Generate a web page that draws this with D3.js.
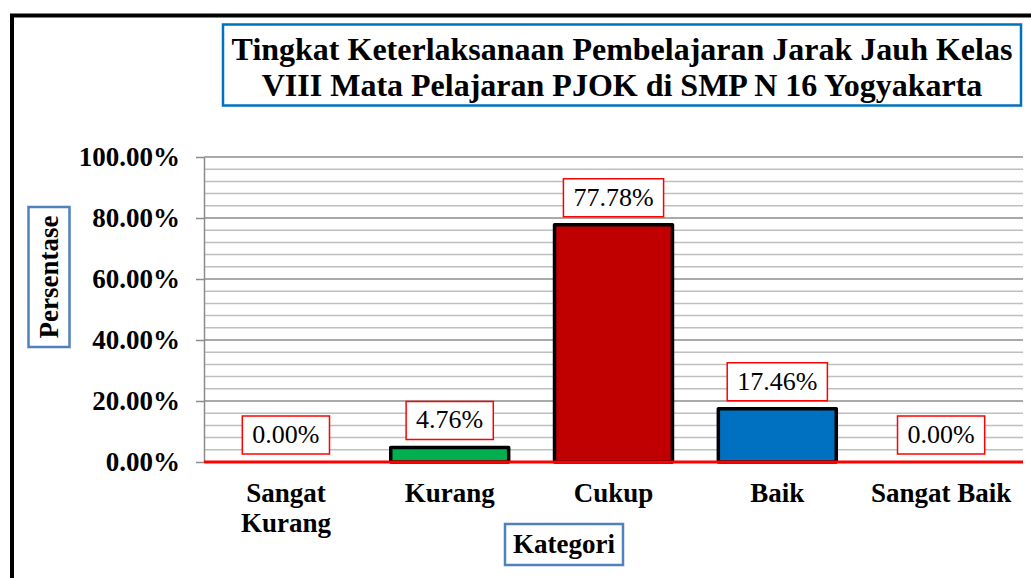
<!DOCTYPE html>
<html>
<head>
<meta charset="utf-8">
<script src="https://cdn.jsdelivr.net/npm/d3@7"></script>
<style>
  body { margin: 0; background: #fff; }
  svg { display: block; font-family: "Liberation Serif", "Times New Roman", serif; }
</style>
</head>
<body>
<svg id="chart" width="1031" height="578"></svg>
<script>
// data
const categories = ["Sangat Kurang", "Kurang", "Cukup", "Baik", "Sangat Baik"];
const values = [0, 4.76, 77.78, 17.46, 0];
const barColors = ["#00B050", "#00B050", "#C00000", "#0070C0", "#0070C0"];
const titleLines = [
    "Tingkat Keterlaksanaan Pembelajaran Jarak Jauh Kelas",
    "VIII Mata Pelajaran PJOK di SMP N 16 Yogyakarta"
];
const majorTicks = [0, 20, 40, 60, 80, 100];
const minorTicks = d3.range(0, 101, 4);

const svg = d3.select("#chart");
const margin = {left: 204, right: 1023, top: 157, bottom: 462};

// outer frame (runs off the picture on the right and bottom)
svg.append("rect")
    .attr("x", 12).attr("y", 15.5)
    .attr("width", 1100).attr("height", 700)
    .attr("fill", "none").attr("stroke", "#000").attr("stroke-width", 4);

// title
svg.append("rect")
    .attr("x", 223).attr("y", 24.5)
    .attr("width", 798).attr("height", 81)
    .attr("fill", "#fff").attr("stroke", "#0070C0").attr("stroke-width", 2.5);
svg.append("g").selectAll("text")
    .data(titleLines)
    .join("text")
    .attr("x", 622).attr("y", (d, i) => 60 + i * 36)
    .attr("text-anchor", "middle")
    .attr("font-size", 32).attr("font-weight", "bold")
    .text(d => d);

// scales
const x = d3.scaleBand()
    .domain(categories)
    .range([margin.left, margin.right])
    .paddingInner(0.28).paddingOuter(0.14);
const y = d3.scaleLinear()
    .domain([0, 100])
    .range([margin.bottom, margin.top]);

// grid lines
svg.append("g").selectAll("line")
    .data(minorTicks.filter(t => t % 20 !== 0))
    .join("line")
    .attr("x1", margin.left).attr("x2", margin.right)
    .attr("y1", d => y(d)).attr("y2", d => y(d))
    .attr("stroke", "#BFBFBF").attr("stroke-width", 1.5);
svg.append("g").selectAll("line")
    .data(majorTicks.filter(t => t > 0))
    .join("line")
    .attr("x1", margin.left).attr("x2", margin.right)
    .attr("y1", d => y(d)).attr("y2", d => y(d))
    .attr("stroke", "#8C8C8C").attr("stroke-width", 1.5);

// y axis
const yAxis = svg.append("g")
    .attr("transform", `translate(${margin.left},0)`)
    .call(d3.axisLeft(y).tickValues(majorTicks)
        .tickFormat(d => d.toFixed(2) + "%")
        .tickSize(8).tickSizeOuter(0).tickPadding(16));
yAxis.select(".domain").attr("stroke", "#8C8C8C").attr("stroke-width", 1.5);
yAxis.selectAll(".tick line").attr("stroke", "#8C8C8C").attr("stroke-width", 1.5);
yAxis.selectAll(".tick text")
    .attr("font-family", "Liberation Serif, serif")
    .attr("font-size", 27).attr("font-weight", "bold").attr("fill", "#000");

// bars
svg.append("g").selectAll("rect")
    .data(values)
    .join("rect")
    .filter(d => d > 0)
    .attr("x", (d, i) => x(categories[values.indexOf(d)]))
    .attr("y", d => y(d))
    .attr("width", x.bandwidth())
    .attr("height", d => y(0) - y(d))
    .attr("fill", d => barColors[values.indexOf(d)])
    .attr("stroke", "#000").attr("stroke-width", 3.5)
    .attr("stroke-linejoin", "round");

// zero line
svg.append("line")
    .attr("x1", margin.left).attr("x2", margin.right)
    .attr("y1", y(0)).attr("y2", y(0))
    .attr("stroke", "#FF0000").attr("stroke-width", 3);

// data labels in red boxes
const labels = svg.append("g").selectAll("g")
    .data(values)
    .join("g")
    .attr("transform", (d, i) =>
        `translate(${x(categories[i]) + x.bandwidth() / 2},${y(d) - 8})`);
labels.append("text")
    .attr("y", -11)
    .attr("text-anchor", "middle")
    .attr("font-size", 26)
    .text(d => d.toFixed(2) + "%");
labels.each(function () {
    const g = d3.select(this);
    const w = g.select("text").node().getComputedTextLength() + 20;
    g.insert("rect", "text")
        .attr("x", -w / 2).attr("y", -38)
        .attr("width", w).attr("height", 38)
        .attr("fill", "#fff").attr("stroke", "#FF0000").attr("stroke-width", 1.5);
});

// category labels
const catText = svg.append("g").selectAll("text")
    .data(categories)
    .join("text")
    .attr("x", d => x(d) + x.bandwidth() / 2)
    .attr("y", 502)
    .attr("text-anchor", "middle")
    .attr("font-size", 27).attr("font-weight", "bold");
catText.each(function (d) {
    const t = d3.select(this);
    const words = d.split(" ");
    // wrap the long label the way the original does
    const lines = d.length > 11 ? words : [d];
    lines.forEach((line, i) => {
        t.append("tspan")
            .attr("x", t.attr("x"))
            .attr("dy", i === 0 ? 0 : 30)
            .text(line);
    });
});

// axis titles
const xTitle = svg.append("g").attr("transform", "translate(564,544)");
xTitle.append("rect")
    .attr("x", -59).attr("y", -20)
    .attr("width", 118).attr("height", 41)
    .attr("fill", "#fff").attr("stroke", "#4F81BD").attr("stroke-width", 2.5);
xTitle.append("text")
    .attr("y", 9)
    .attr("text-anchor", "middle")
    .attr("font-size", 27).attr("font-weight", "bold")
    .text("Kategori");

const yTitle = svg.append("g").attr("transform", "translate(49,277) rotate(-90)");
yTitle.append("rect")
    .attr("x", -70).attr("y", -20.5)
    .attr("width", 140).attr("height", 41)
    .attr("fill", "#fff").attr("stroke", "#4F81BD").attr("stroke-width", 2.5);
yTitle.append("text")
    .attr("y", 9)
    .attr("text-anchor", "middle")
    .attr("font-size", 27).attr("font-weight", "bold")
    .text("Persentase");
</script>
</body>
</html>
